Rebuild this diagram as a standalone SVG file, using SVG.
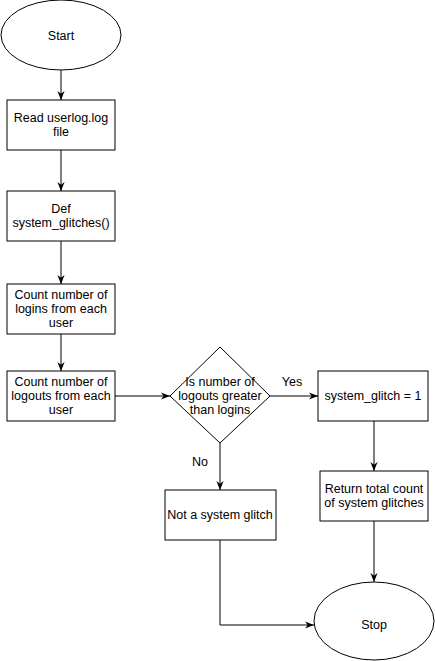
<svg xmlns="http://www.w3.org/2000/svg" width="435" height="661" viewBox="0 0 435 661">
<style>
.s{fill:#fff;stroke:#000;stroke-width:1}
.c{fill:none;stroke:#000;stroke-width:1}
text{font-family:"Liberation Sans",Arial,sans-serif;font-size:12.5px;fill:#000;text-anchor:middle}
</style>
<defs>
<marker id="a" viewBox="0 0 10 10" refX="10" refY="5" markerWidth="9" markerHeight="9" markerUnits="userSpaceOnUse" orient="auto">
<path d="M0,1 L10,5 L0,9 L3,5 z" fill="#000"/>
</marker>
</defs>
<rect width="435" height="661" fill="#fff"/>
<g id="connectors">
<line class="c" x1="61" y1="70" x2="61" y2="100" marker-end="url(#a)"/>
<line class="c" x1="61" y1="150" x2="61" y2="191" marker-end="url(#a)"/>
<line class="c" x1="61" y1="241" x2="61" y2="284" marker-end="url(#a)"/>
<line class="c" x1="61" y1="334" x2="61" y2="371" marker-end="url(#a)"/>
<line class="c" x1="115" y1="396" x2="170" y2="396" marker-end="url(#a)"/>
<line class="c" x1="270" y1="396" x2="318" y2="396" marker-end="url(#a)"/>
<line class="c" x1="374" y1="421" x2="374" y2="471" marker-end="url(#a)"/>
<line class="c" x1="374" y1="521" x2="374" y2="582" marker-end="url(#a)"/>
<line class="c" x1="220" y1="443" x2="220" y2="490" marker-end="url(#a)"/>
<polyline class="c" points="220,540 220,625 314,625" marker-end="url(#a)"/>
<text x="292" y="386">Yes</text>
<text x="200" y="466">No</text>
</g>
<g id="start">
<ellipse class="s" cx="61" cy="35" rx="60" ry="35"/>
<text x="61" y="40">Start</text>
</g>
<g id="read">
<rect class="s" x="7" y="100" width="108" height="50"/>
<text x="61" y="122">Read userlog.log</text>
<text x="61" y="136">file</text>
</g>
<g id="def">
<rect class="s" x="7" y="191" width="108" height="50"/>
<text x="61" y="213">Def</text>
<text x="61" y="227">system_glitches()</text>
</g>
<g id="logins">
<rect class="s" x="7" y="284" width="108" height="50"/>
<text x="61" y="299">Count number of</text>
<text x="61" y="313">logins from each</text>
<text x="61" y="327">user</text>
</g>
<g id="logouts">
<rect class="s" x="7" y="371" width="108" height="50"/>
<text x="61" y="386">Count number of</text>
<text x="61" y="400">logouts from each</text>
<text x="61" y="414">user</text>
</g>
<g id="decision">
<polygon class="s" points="170,396 220,347 270,396 220,443"/>
<text x="220" y="386">Is number of</text>
<text x="220" y="400">logouts greater</text>
<text x="220" y="414">than logins</text>
</g>
<g id="glitch">
<rect class="s" x="318" y="371" width="110" height="50"/>
<text x="373" y="400">system_glitch = 1</text>
</g>
<g id="return">
<rect class="s" x="320" y="471" width="108" height="50"/>
<text x="374" y="493">Return total count</text>
<text x="374" y="507">of system glitches</text>
</g>
<g id="notglitch">
<rect class="s" x="165" y="490" width="111" height="50"/>
<text x="220" y="519">Not a system glitch</text>
</g>
<g id="stop">
<ellipse class="s" cx="374" cy="621" rx="60" ry="39"/>
<text x="374" y="629">Stop</text>
</g>
</svg>
